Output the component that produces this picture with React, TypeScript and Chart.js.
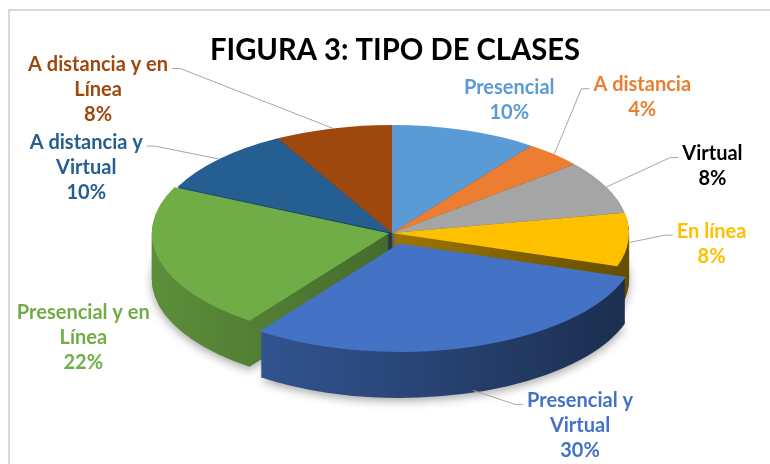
import React, { useEffect, useRef } from "react";
import { Chart, registerables } from "chart.js";

Chart.register(...registerables);

// ---- data ----
const categories = [
  "Presencial",
  "A distancia",
  "Virtual",
  "En línea",
  "Presencial y Virtual",
  "Presencial y en Línea",
  "A distancia y Virtual",
  "A distancia y en Línea",
];
const values = [10, 4, 8, 8, 30, 22, 10, 8];
const chartTitle = "FIGURA 3: TIPO DE CLASES";

// ---- styles ----
const sliceColors = ["#5B9BD5", "#ED7D31", "#A5A5A5", "#FFC000", "#4472C4", "#70AD47", "#255E91", "#9E480E"];
const labelColors = ["#5B9BD5", "#ED7D31", "#000000", "#FFC000", "#4472C4", "#70AD47", "#255E91", "#9E480E"];
const explode = [0, 0, 0, 0, 60, 8, 0, 0];

// ---- layout of the tilted pie and its data labels (screen px) ----
const PIE = { cx: 392, cy: 233, rx: 237, ry: 108, depth: 46 };
const labelShift: [number, number][] = [
  [44, -30],
  [88, -57],
  [106, -21],
  [83, 1],
  [107, 35],
  [-76, 66],
  [-133, 8],
  [-235, -39],
];
const showLeader = [false, true, true, true, true, false, true, true];
const LABEL_FONT = "bold 20px Lato";
const LINE_H = 25;
const WRAP_W = 150;

function shade(hex: string, f: number) {
  const n = parseInt(hex.slice(1), 16);
  const r = Math.round(((n >> 16) & 255) * f);
  const g = Math.round(((n >> 8) & 255) * f);
  const b = Math.round((n & 255) * f);
  return `rgb(${r},${g},${b})`;
}

function arcShift(arc: any) {
  const p = arc.getProps(["startAngle", "endAngle", "circumference"], true);
  const o = (arc.options.offset || 0) / 4;
  const fix = 1 - Math.sin(Math.min(Math.PI, p.circumference || 0));
  const d = o + o * fix;
  const half = (p.startAngle + p.endAngle) / 2;
  return { dx: Math.cos(half) * d, dy: Math.sin(half) * d, half };
}

function wrap(ctx: CanvasRenderingContext2D, text: string, maxW: number) {
  const words = text.split(" ");
  const lines: string[] = [];
  let cur = "";
  for (const w of words) {
    const t = cur ? cur + " " + w : w;
    if (cur && ctx.measureText(t).width > maxW) {
      lines.push(cur);
      cur = w;
    } else cur = t;
  }
  if (cur) lines.push(cur);
  return lines;
}

let saved = false;

const pie3d = {
  id: "pie3d",
  beforeDatasetsDraw(chart: any) {
    const arcs = chart.getDatasetMeta(0).data as any[];
    if (!arcs.length) return;
    const { x: cx, y: cy, outerRadius: R } = arcs[0].getProps(["x", "y", "outerRadius"], true);
    const sx = PIE.rx / R;
    const sy = PIE.ry / R;
    const ctx: CanvasRenderingContext2D = chart.ctx;
    ctx.save();
    saved = true;
    ctx.translate(PIE.cx, PIE.cy);
    ctx.scale(sx, sy);
    ctx.translate(-cx, -cy);

    const grads = arcs.map((_, i) => {
      const g = ctx.createLinearGradient(cx - R, 0, cx + R, 0);
      g.addColorStop(0, shade(sliceColors[i], 0.82));
      g.addColorStop(0.5, shade(sliceColors[i], 0.62));
      g.addColorStop(1, shade(sliceColors[i], 0.4));
      return g;
    });

    for (let s = PIE.depth; s >= 1; s--) {
      arcs.forEach((arc, i) => {
        const p = arc.getProps(["x", "y", "startAngle", "endAngle", "outerRadius"], true);
        const sh = arcShift(arc);
        const ox = p.x + sh.dx;
        const oy = p.y + sh.dy + s / sy;
        ctx.beginPath();
        ctx.moveTo(ox, oy);
        ctx.arc(ox, oy, p.outerRadius, p.startAngle, p.endAngle);
        ctx.closePath();
        if (s === PIE.depth) {
          ctx.shadowColor = "rgba(0,0,0,0.35)";
          ctx.shadowBlur = 10;
          ctx.shadowOffsetY = 3;
        } else {
          ctx.shadowColor = "rgba(0,0,0,0)";
          ctx.shadowBlur = 0;
          ctx.shadowOffsetY = 0;
        }
        ctx.fillStyle = grads[i];
        ctx.fill();
      });
    }
    ctx.shadowColor = "rgba(0,0,0,0)";
    ctx.shadowBlur = 0;
    ctx.shadowOffsetY = 0;
  },
  afterDatasetsDraw(chart: any) {
    if (saved) {
      chart.ctx.restore();
      saved = false;
    }
  },
  afterDraw(chart: any) {
    const arcs = chart.getDatasetMeta(0).data as any[];
    if (!arcs.length) return;
    const { x: cx, y: cy, outerRadius: R } = arcs[0].getProps(["x", "y", "outerRadius"], true);
    const sx = PIE.rx / R;
    const sy = PIE.ry / R;
    const ctx: CanvasRenderingContext2D = chart.ctx;
    const total = values.reduce((a, b) => a + b, 0);
    ctx.save();
    ctx.font = LABEL_FONT;
    ctx.textAlign = "center";
    ctx.textBaseline = "middle";
    arcs.forEach((arc, i) => {
      const sh = arcShift(arc);
      const px = cx + Math.cos(sh.half) * R + sh.dx;
      const py = cy + Math.sin(sh.half) * R + sh.dy;
      const ax = PIE.cx + (px - cx) * sx;
      const ay = PIE.cy + (py - cy) * sy + PIE.depth * Math.max(0, Math.sin(sh.half));
      const lines = wrap(ctx, categories[i], WRAP_W).concat([Math.round((values[i] / total) * 100) + "%"]);
      const [dx, dy] = labelShift[i];
      const lx = ax + dx;
      const ly = ay + dy;
      const top = ly - ((lines.length - 1) * LINE_H) / 2;
      if (showLeader[i]) {
        const w = ctx.measureText(lines[0]).width;
        const ly0 = top + 4;
        const attachX = dx > 0 ? lx - w / 2 - 4 : lx + w / 2 + 4;
        const elbowX = dx > 0 ? attachX - 8 : attachX + 8;
        ctx.strokeStyle = "#A6A6A6";
        ctx.lineWidth = 1;
        ctx.beginPath();
        ctx.moveTo(ax, ay);
        ctx.lineTo(elbowX, ly0);
        ctx.lineTo(attachX, ly0);
        ctx.stroke();
      }
      ctx.fillStyle = labelColors[i];
      lines.forEach((t, k) => ctx.fillText(t, lx, top + k * LINE_H));
    });
    ctx.restore();
  },
};

export default function App() {
  const ref = useRef<HTMLCanvasElement | null>(null);
  useEffect(() => {
    if (!ref.current) return;
    const chart = new Chart(ref.current, {
      type: "pie",
      data: {
        labels: categories,
        datasets: [
          {
            data: values,
            backgroundColor: sliceColors,
            borderWidth: 0,
            offset: explode,
            clip: false,
          } as any,
        ],
      },
      options: {
        responsive: false,
        animation: false,
        events: [],
        layout: { padding: { left: 210, right: 190, top: 0, bottom: 40 } },
        plugins: {
          legend: { display: false },
          tooltip: { enabled: false },
          title: {
            display: true,
            text: chartTitle,
            color: "#000000",
            font: { family: "Lato", size: 30, weight: "bold" },
            padding: { top: 32, bottom: 0 },
          },
        },
      } as any,
      plugins: [pie3d as any],
    });
    return () => chart.destroy();
  }, []);

  return (
    <div style={{ position: "fixed", left: 0, top: 0, width: 770, height: 464, background: "#fff", overflow: "hidden" }}>
      <div
        style={{
          position: "absolute",
          left: 8,
          top: 9,
          width: 800,
          height: 500,
          border: "2px solid #D9D9D9",
          boxSizing: "border-box",
        }}
      />
      <canvas ref={ref} width={770} height={464} style={{ position: "absolute", left: 0, top: 0 }} />
    </div>
  );
}
